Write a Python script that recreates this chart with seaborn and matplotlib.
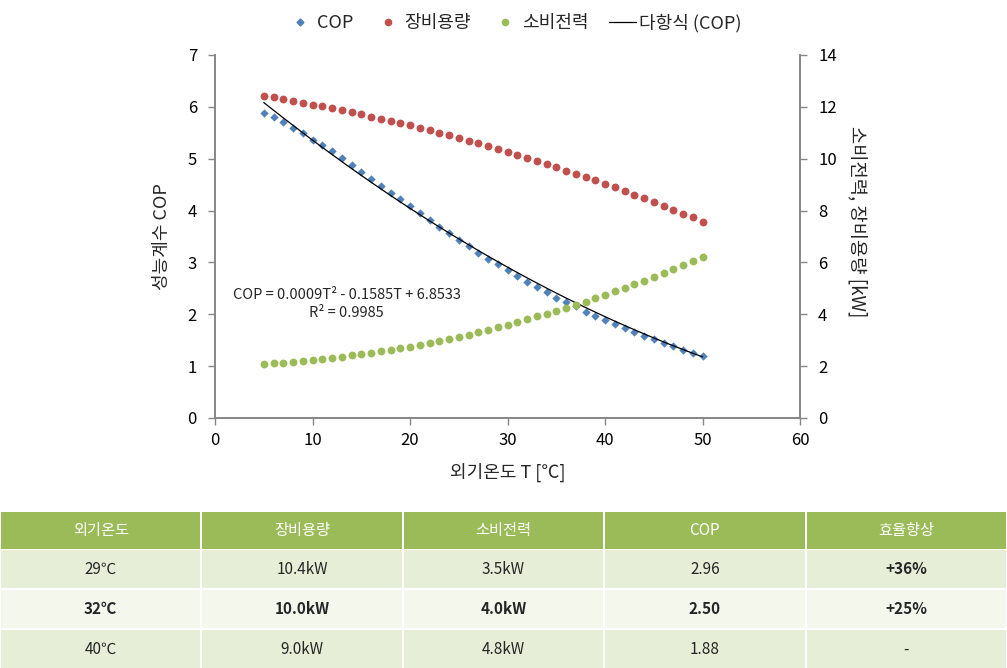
import numpy as np
import pandas as pd
import matplotlib
matplotlib.use("Agg")
import matplotlib.pyplot as plt
from matplotlib.lines import Line2D
from matplotlib.patches import Rectangle
import seaborn as sns

# outdoor temperature (deg C), one point per degree
temp = list(range(5, 51))

# COP
cop = [5.89, 5.80, 5.70, 5.60, 5.49, 5.37, 5.26, 5.14, 5.01, 4.87,
       4.74, 4.61, 4.47, 4.34, 4.22, 4.08, 3.95, 3.81, 3.69, 3.56,
       3.43, 3.31, 3.18, 3.07, 2.96, 2.85, 2.74, 2.63, 2.53, 2.42,
       2.32, 2.23, 2.15, 2.05, 1.97, 1.89, 1.81, 1.73, 1.66, 1.59,
       1.52, 1.45, 1.39, 1.32, 1.26, 1.20]

# equipment capacity [kW] (red)
capacity = [12.42, 12.37, 12.29, 12.22, 12.16, 12.08, 12.02, 11.94, 11.87, 11.79,
            11.71, 11.62, 11.54, 11.47, 11.36, 11.29, 11.20, 11.09, 11.00, 10.90,
            10.80, 10.69, 10.59, 10.49, 10.39, 10.27, 10.15, 10.04, 9.92, 9.80,
            9.67, 9.54, 9.41, 9.28, 9.17, 9.02, 8.90, 8.75, 8.61, 8.47,
            8.33, 8.18, 8.03, 7.88, 7.74, 7.57]

# power consumption [kW] (green)
power = [2.09, 2.11, 2.13, 2.17, 2.21, 2.25, 2.28, 2.31, 2.36, 2.42,
         2.47, 2.52, 2.58, 2.63, 2.70, 2.75, 2.83, 2.89, 2.98, 3.06,
         3.14, 3.21, 3.30, 3.39, 3.50, 3.59, 3.70, 3.81, 3.92, 4.02,
         4.14, 4.25, 4.37, 4.49, 4.62, 4.76, 4.89, 5.01, 5.16, 5.30,
         5.45, 5.59, 5.75, 5.90, 6.05, 6.22]

# trendline coefficients printed on the chart
poly_coef = [0.0009, -0.1585, 6.8533]
r2 = 0.9985

# table below the chart
table_head = ["외기온도", "장비용량", "소비전력", "COP", "효율향상"]
table_rows = [["29℃", "10.4kW", "3.5kW", "2.96", "+36%"],
              ["32℃", "10.0kW", "4.0kW", "2.50", "+25%"],
              ["40℃", "9.0kW", "4.8kW", "1.88", "-"]]

df = pd.DataFrame({"T": temp, "COP": cop, "cap": capacity, "pw": power})
df["fit"] = np.polyval(poly_coef, df["T"])

sns.set_style("white")
plt.rcParams["font.family"] = ["Noto Sans CJK KR", "DejaVu Sans"]

blue = "#4F81BD"
red = "#C0504D"
green = "#9BBB59"
gray = "#868686"

fig = plt.figure(figsize=(10.07, 6.68), dpi=100)
ax = fig.add_axes([0.2135, 0.3743, 0.5810, 0.5434])
ax2 = ax.twinx()

sns.scatterplot(data=df, x="T", y="COP", ax=ax, marker="D", s=18,
                color=blue, edgecolor=blue, linewidth=0, zorder=3)
sns.lineplot(data=df, x="T", y="fit", ax=ax, color="black", linewidth=0.9, zorder=4)
sns.scatterplot(data=df, x="T", y="cap", ax=ax2, marker="o", s=32,
                color=red, edgecolor=red, linewidth=0)
sns.scatterplot(data=df, x="T", y="pw", ax=ax2, marker="o", s=32,
                color=green, edgecolor=green, linewidth=0)

ax.set_xlim(0, 60)
ax.set_ylim(0, 7)
ax2.set_ylim(0, 14)
ax.set_xticks(range(0, 61, 10))
ax.set_yticks(range(0, 8))
ax2.set_yticks(range(0, 15, 2))

for a in (ax, ax2):
    for side in a.spines:
        a.spines[side].set_color(gray)
        a.spines[side].set_linewidth(1.2)
    a.spines["top"].set_visible(False)
    a.tick_params(direction="out", length=5, width=1, color=gray,
                  labelsize=12, labelcolor="black", pad=8)
ax.tick_params(axis="y", right=False, left=True)
ax.tick_params(axis="x", bottom=True, length=5, pad=5)
ax2.tick_params(axis="y", right=True, left=False)

ax.set_xlabel("외기온도 T [℃]", fontsize=13, labelpad=10)
ax.set_ylabel("성능계수 COP", fontsize=13, labelpad=12)
ax2.set_ylabel("소비전력, 장비용량 [kW]", fontsize=13.5, rotation=-90, labelpad=28)
ax2.yaxis.set_label_coords(1.115, 0.54)

ax.text(13.5, 2.2,
        f"COP = {poly_coef[0]:.4f}T² - {abs(poly_coef[1]):.4f}T + {poly_coef[2]:.4f}\nR² = {r2:.4f}",
        ha="center", va="center", fontsize=10.5, linespacing=1.3)

handles = [
    Line2D([], [], marker="D", color=blue, linestyle="none", markersize=3.5),
    Line2D([], [], marker="o", color=red, linestyle="none", markersize=4.5),
    Line2D([], [], marker="o", color=green, linestyle="none", markersize=4.5),
    Line2D([], [], color="black", linewidth=0.9),
]
fig.legend(handles, ["COP", "장비용량", "소비전력", "다항식 (COP)"],
           loc="center", bbox_to_anchor=(0.511, 0.966), ncol=4, frameon=False,
           fontsize=13, handlelength=1.45, columnspacing=1.17, handletextpad=0.2)

# table
tax = fig.add_axes([0, 0, 1, 0.2335])
tax.set_xlim(0, 1007)
tax.set_ylim(156, 0)
tax.axis("off")
row_tops = [0, 38, 78, 118]
row_h = [37, 38, 38, 38]
fills = [green, "#E6EED8", "#F3F7EC", "#E6EED8"]
col_w = 1007 / 5
for r in range(4):
    for c in range(5):
        tax.add_patch(Rectangle((c * col_w + 1, row_tops[r]), col_w - 2, row_h[r],
                                facecolor=fills[r], edgecolor="none"))
        if r == 0:
            txt, col, wt = table_head[c], "white", "normal"
        else:
            txt = table_rows[r - 1][c]
            col = "#262626"
            wt = "bold" if (r == 2 or (c == 4 and txt != "-")) else "normal"
        tax.text(c * col_w + col_w / 2, row_tops[r] + row_h[r] / 2, txt,
                 ha="center", va="center", fontsize=11, color=col, fontweight=wt)

fig.savefig("out.png", dpi=100)
